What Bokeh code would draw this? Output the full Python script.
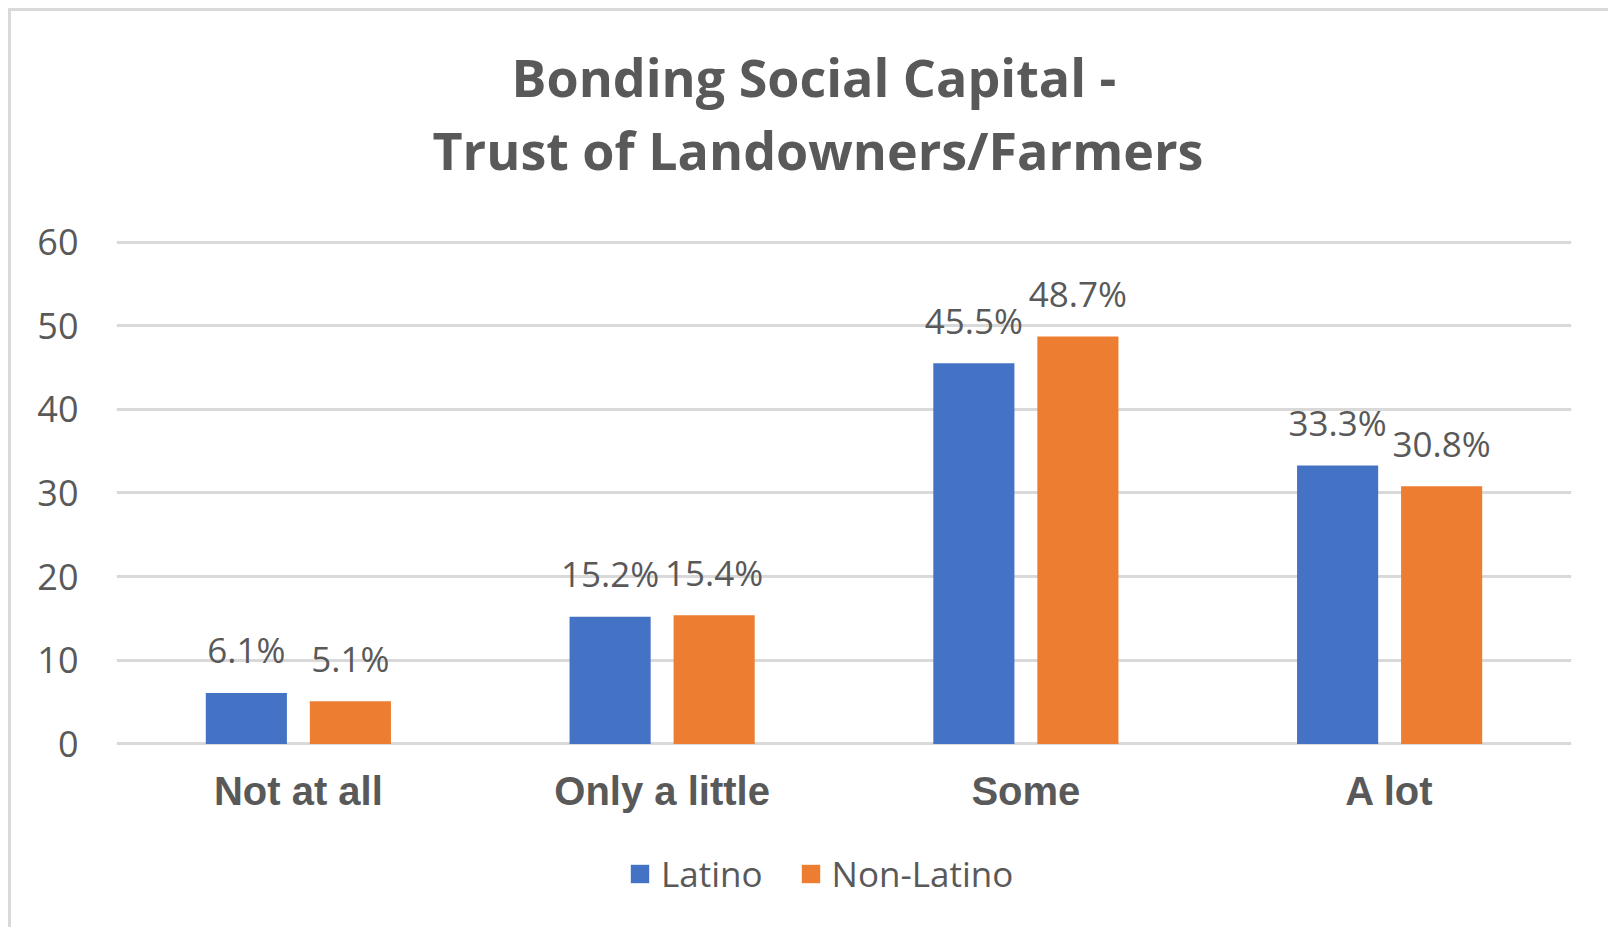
from bokeh.plotting import figure
from bokeh.models import (ColumnDataSource, FactorRange, Range1d, FixedTicker, Title,
                          LabelSet, Legend, LegendItem)
from bokeh.core.properties import value
from bokeh.transform import dodge
from bokeh.embed import file_html
from bokeh.resources import INLINE

categories = ["Not at all", "Only a little", "Some", "A lot"]
latino = [6.1, 15.2, 45.5, 33.3]
non_latino = [5.1, 15.4, 48.7, 30.8]
series_names = ["Latino", "Non-Latino"]
y_ticks = [0, 10, 20, 30, 40, 50, 60]
title_lines = ["Bonding Social Capital -", "Trust of Landowners/Farmers"]

src = ColumnDataSource(dict(
    cat=categories,
    zero=[0] * len(categories),
    latino=latino,
    non_latino=non_latino,
    latino_lbl=[f"{v:.1f}%" for v in latino],
    non_latino_lbl=[f"{v:.1f}%" for v in non_latino],
))

TXT = "#595959"
# frame: top at 60.3, bottom well below 0 so that category labels and legend sit inside it
p = figure(x_range=FactorRange(*categories, range_padding=0), y_range=Range1d(-21.7, 60.3),
           width=1600, height=919, output_backend="svg", toolbar_location=None,
           min_border_left=105, min_border_right=40, min_border_top=228, min_border_bottom=5)
p.margin = (8, 0, 0, 8)
p.styles = {"border-top": "3px solid #d9d9d9", "border-left": "3px solid #d9d9d9"}
p.outline_line_color = None
p.background_fill_color = "white"

r1 = p.vbar(x=dodge("cat", -0.143, range=p.x_range), top="latino", width=0.223,
            source=src, color="#4472C4", line_color=None)
r2 = p.vbar(x=dodge("cat", 0.143, range=p.x_range), top="non_latino", width=0.223,
            source=src, color="#ED7D31", line_color=None)

for col, off in (("latino", -0.143), ("non_latino", 0.143)):
    p.add_layout(LabelSet(x=dodge("cat", off, range=p.x_range), y=col, text=col + "_lbl",
                          source=src, text_align="center", text_baseline="middle",
                          y_offset=43, text_font=value("Open Sans"), text_font_size="35px",
                          text_color=TXT))

# category labels (x axis)
p.add_layout(LabelSet(x="cat", y="zero", text="cat", source=src, text_align="center",
                      text_baseline="middle", y_offset=-47,
                      text_font=value("Liberation Sans"), text_font_style="bold",
                      text_font_size="40px", text_color=TXT))
p.xaxis.visible = False

p.xgrid.grid_line_color = None
p.ygrid.grid_line_color = "#D9D9D9"
p.ygrid.grid_line_width = 3
p.yaxis.ticker = FixedTicker(ticks=y_ticks)
p.yaxis.axis_line_color = None
p.yaxis.major_tick_line_color = None
p.yaxis.minor_tick_line_color = None
p.yaxis.major_label_text_color = TXT
p.yaxis.major_label_text_font = "Open Sans"
p.yaxis.major_label_text_font_size = "36px"
p.yaxis.major_label_standoff = 32

legend = Legend(items=[LegendItem(label=series_names[0], renderers=[r1]),
                       LegendItem(label=series_names[1], renderers=[r2])],
                orientation="horizontal", location=(512, 28),
                border_line_color=None, background_fill_alpha=0,
                padding=0, margin=0, spacing=36, label_standoff=10,
                glyph_width=23, glyph_height=23,
                label_text_font="Open Sans", label_text_font_size="35px",
                label_text_color=TXT)
p.add_layout(legend, "center")

spacer = Title(text=" ", standoff=41, text_font_size="10px")
t2 = Title(text=title_lines[1], align="left", offset=316, standoff=0, vertical_align="middle",
           text_font="Open Sans", text_font_style="bold", text_font_size="52px", text_color=TXT)
t1 = Title(text=title_lines[0], align="left", offset=395, standoff=0, vertical_align="middle",
           text_font="Open Sans", text_font_style="bold", text_font_size="52px", text_color=TXT)
p.add_layout(spacer, "above")
p.add_layout(t2, "above")
p.add_layout(t1, "above")

open("out.html", "w").write(file_html(p, INLINE))
